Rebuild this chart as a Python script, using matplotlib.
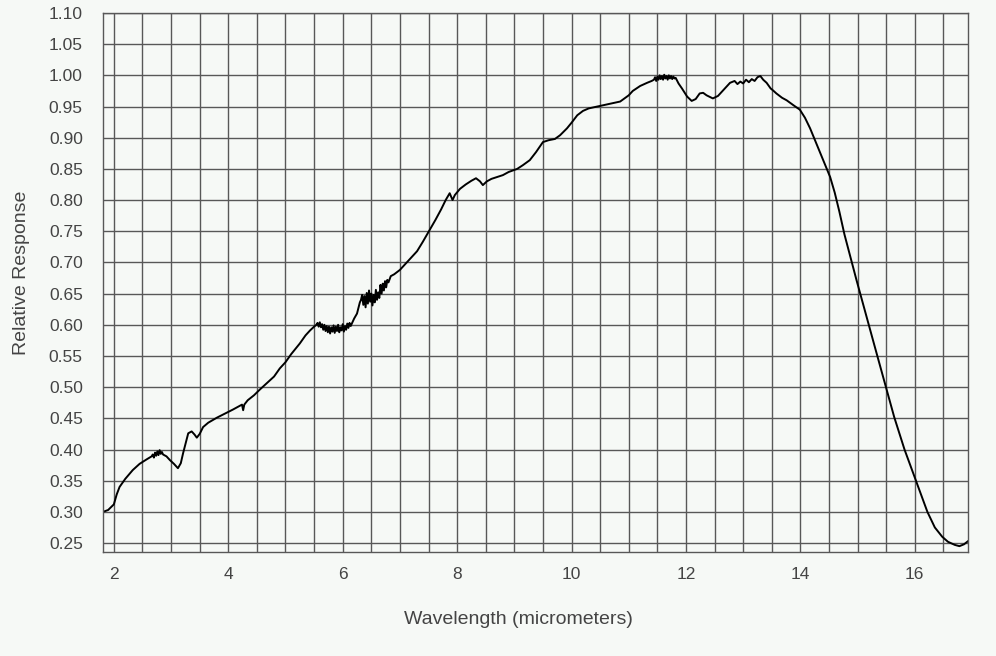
import numpy as np
import matplotlib
matplotlib.use('Agg')
import matplotlib.pyplot as plt
from matplotlib.ticker import MultipleLocator, FormatStrFormatter

plt.rcParams['font.family'] = ['Liberation Sans', 'DejaVu Sans']

# wavelength (micrometers) and relative response
wavelength = [
    1.81, 1.90, 2.00, 2.05, 2.10, 2.20, 2.33, 2.45, 2.57,
    2.66, 2.68, 2.70, 2.72, 2.74, 2.76, 2.78, 2.80, 2.82, 2.84, 2.86,
    2.92, 2.98, 3.05, 3.12, 3.17,
    3.21, 3.26, 3.30, 3.36, 3.41, 3.45, 3.50, 3.56, 3.65, 3.80,
    3.95, 4.08, 4.20, 4.24, 4.26, 4.28, 4.34, 4.45, 4.55, 4.67,
    4.80, 4.90, 5.00, 5.10, 5.25, 5.35, 5.43, 5.50,
    5.54, 5.56, 5.58, 5.60, 5.62, 5.64, 5.66, 5.68, 5.70, 5.72,
    5.74, 5.76, 5.78, 5.80, 5.82, 5.84, 5.86, 5.88, 5.90, 5.92,
    5.94, 5.96, 5.98, 6.00, 6.02, 6.04, 6.06, 6.08, 6.10, 6.12, 6.14,
    6.20, 6.25, 6.30,
    6.32, 6.34, 6.36, 6.38, 6.40, 6.42, 6.44, 6.46, 6.48, 6.50,
    6.52, 6.54, 6.56, 6.58, 6.60, 6.62, 6.64, 6.66, 6.68, 6.70,
    6.72, 6.74, 6.76, 6.78, 6.80,
    6.84, 6.90, 7.00, 7.10, 7.20, 7.30, 7.40, 7.52,
    7.62, 7.72, 7.80, 7.87, 7.92, 7.96, 8.05, 8.15, 8.25, 8.33,
    8.40, 8.45, 8.52, 8.60, 8.70, 8.80, 8.90, 9.05, 9.15, 9.27,
    9.38, 9.50, 9.60, 9.71, 9.80, 9.92, 10.00, 10.10, 10.20, 10.30,
    10.45, 10.60, 10.75, 10.85, 11.00, 11.07, 11.20, 11.32, 11.40,
    11.44, 11.46, 11.48, 11.50, 11.52, 11.54, 11.56, 11.58, 11.60, 11.62,
    11.64, 11.66, 11.68, 11.70, 11.72, 11.74, 11.76, 11.78, 11.80, 11.82,
    11.87, 11.93, 12.02, 12.10, 12.17, 12.24, 12.30, 12.36, 12.47,
    12.56, 12.65, 12.72, 12.77, 12.85, 12.90, 12.95, 13.00, 13.05, 13.10,
    13.15, 13.20, 13.25, 13.30, 13.35, 13.41, 13.48, 13.52, 13.58, 13.68,
    13.76, 13.88, 13.99, 14.08, 14.17, 14.26, 14.34, 14.43, 14.52,
    14.60, 14.68, 14.77, 14.87, 14.98, 15.12, 15.30, 15.48, 15.64, 15.82,
    16.02, 16.22, 16.35, 16.48, 16.58, 16.70, 16.78, 16.86, 16.93,
]
response = [
    0.300, 0.303, 0.312, 0.328, 0.340, 0.353, 0.367, 0.377, 0.384,
    0.389, 0.392, 0.387, 0.395, 0.390, 0.397, 0.391, 0.399, 0.393, 0.396, 0.392,
    0.389, 0.383, 0.377, 0.370, 0.378,
    0.394, 0.412, 0.426, 0.429, 0.424, 0.419, 0.425, 0.436, 0.443, 0.451,
    0.458, 0.464, 0.470, 0.472, 0.463, 0.472, 0.479, 0.487, 0.496, 0.506,
    0.517, 0.530, 0.540, 0.553, 0.570, 0.583, 0.591, 0.597,
    0.600, 0.603, 0.597, 0.604, 0.596, 0.601, 0.592, 0.600, 0.590, 0.598,
    0.588, 0.597, 0.586, 0.596, 0.589, 0.599, 0.587, 0.597, 0.590, 0.600,
    0.588, 0.596, 0.591, 0.601, 0.589, 0.598, 0.592, 0.602, 0.595, 0.603, 0.598,
    0.610, 0.618, 0.636,
    0.640, 0.648, 0.632, 0.646, 0.628, 0.651, 0.634, 0.655, 0.637, 0.650,
    0.631, 0.648, 0.636, 0.656, 0.640, 0.652, 0.643, 0.664, 0.650, 0.666,
    0.655, 0.670, 0.660, 0.672, 0.668,
    0.678, 0.681, 0.688, 0.698, 0.708, 0.718, 0.733, 0.752,
    0.768, 0.785, 0.800, 0.811, 0.800, 0.808, 0.818, 0.825, 0.831, 0.835,
    0.830, 0.824, 0.830, 0.834, 0.837, 0.840, 0.845, 0.850, 0.856, 0.864,
    0.877, 0.893, 0.896, 0.898, 0.904, 0.915, 0.924, 0.936, 0.943, 0.947,
    0.950, 0.953, 0.956, 0.958, 0.968, 0.975, 0.983, 0.988, 0.991,
    0.993, 0.997, 0.991, 0.998, 0.993, 1.000, 0.994, 0.999, 0.993, 1.001,
    0.995, 0.999, 0.993, 1.000, 0.995, 0.999, 0.994, 0.998, 0.995, 0.996,
    0.987, 0.979, 0.966, 0.959, 0.962, 0.971, 0.972, 0.968, 0.963,
    0.967, 0.976, 0.983, 0.988, 0.991, 0.986, 0.990, 0.987, 0.993, 0.989,
    0.994, 0.991, 0.997, 0.999, 0.993, 0.988, 0.979, 0.976, 0.971, 0.964,
    0.960, 0.952, 0.945, 0.932, 0.915, 0.895, 0.877, 0.857, 0.837,
    0.812, 0.782, 0.745, 0.710, 0.672, 0.625, 0.565, 0.505, 0.452, 0.400,
    0.350, 0.300, 0.275, 0.260, 0.252, 0.247, 0.245, 0.248, 0.253,
]

bg = '#f6f9f6'
grid_c = '#585858'
text_c = '#444444'

fig = plt.figure(figsize=(9.96, 6.56), dpi=100, facecolor=bg)
ax = fig.add_axes([0.1034, 0.1585, 0.8685, 0.8217], facecolor=bg)

ax.plot(wavelength, response, color='black', lw=1.4)

ax.set_xlim(1.81, 16.93)
ax.set_ylim(0.2356, 1.10)

ax.xaxis.set_major_locator(MultipleLocator(2))
ax.xaxis.set_minor_locator(MultipleLocator(0.5))
ax.yaxis.set_major_locator(MultipleLocator(0.05))
ax.yaxis.set_major_formatter(FormatStrFormatter('%.2f'))
ax.grid(True, which='both', color=grid_c, lw=1.0)
ax.set_axisbelow(True)

ax.tick_params(which='both', length=0)
ax.tick_params(axis='y', pad=14.5, labelsize=12.5, labelcolor=text_c)
ax.tick_params(axis='x', pad=11, labelsize=12.5, labelcolor=text_c)

for s in ax.spines.values():
    s.set_color(grid_c)
    s.set_linewidth(1.0)

ax.set_xlabel('Wavelength (micrometers)', fontsize=14, color=text_c)
ax.set_ylabel('Relative Response', fontsize=14, color=text_c)
ax.xaxis.set_label_coords(0.48, -0.109)
ax.yaxis.set_label_coords(-0.084, 0.518)

fig.savefig('out.png', dpi=100, facecolor=bg)
